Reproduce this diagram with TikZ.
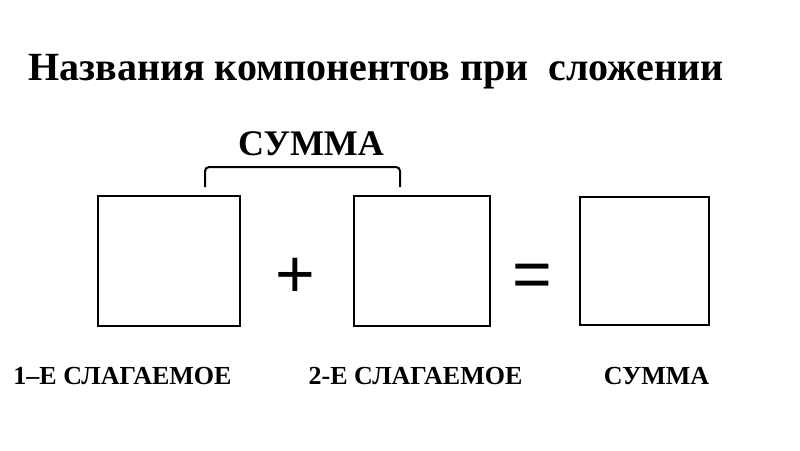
\documentclass[tikz,border=0pt]{standalone}
\usepackage{fontspec}
\setmainfont{Liberation Serif}
\newfontfamily\signfont{Liberation Sans}
\tikzset{
  cell/.style={draw=black,line width=2.5pt,inner sep=0pt},
  sign/.style={font=\signfont\fontsize{68}{68}\selectfont,anchor=base,inner sep=0pt},
  term/.style={font=\bfseries\fontsize{26}{26}\selectfont,anchor=base,inner sep=0pt},
  bracket/.style={draw=black,line width=2pt,rounded corners=4pt}
}
\begin{document}
\begin{tikzpicture}[x=1pt,y=-1pt]
  \useasboundingbox (0,0) rectangle (800,450);
  \node[font=\bfseries\fontsize{40}{40}\selectfont,anchor=base west,inner sep=0pt] (title) at (28,80)
    {Названия компонентов при\ \ сложении};

  % boxes of the equation
  \node[cell,minimum width=142pt,minimum height=130pt] (a) at (169,261) {};
  \node[cell,minimum width=136pt,minimum height=130pt] (b) at (422,261) {};
  \node[cell,line width=2pt,minimum width=129pt,minimum height=128pt] (c) at (644.5,261) {};
  \node[sign] (plus) at (295,297) {+};
  \node[sign] (eq) at (532,297) {=};

  % bracket over the two terms
  \node[font=\bfseries\fontsize{36}{36}\selectfont,anchor=base,inner sep=0pt] (total) at (311,155) {СУММА};
  \coordinate (bl) at (205,187);
  \coordinate (br) at (400,187);
  \draw[bracket] (bl) -- (bl |- 0,167) -- (br |- 0,167) -- (br);

  \node[term] (t1) at (122.5,384) {1–Е СЛАГАЕМОЕ};
  \node[term] (t2) at (415.5,384) {2-Е СЛАГАЕМОЕ};
  \node[term] (t3) at (656.5,384) {СУММА};
\end{tikzpicture}
\end{document}
